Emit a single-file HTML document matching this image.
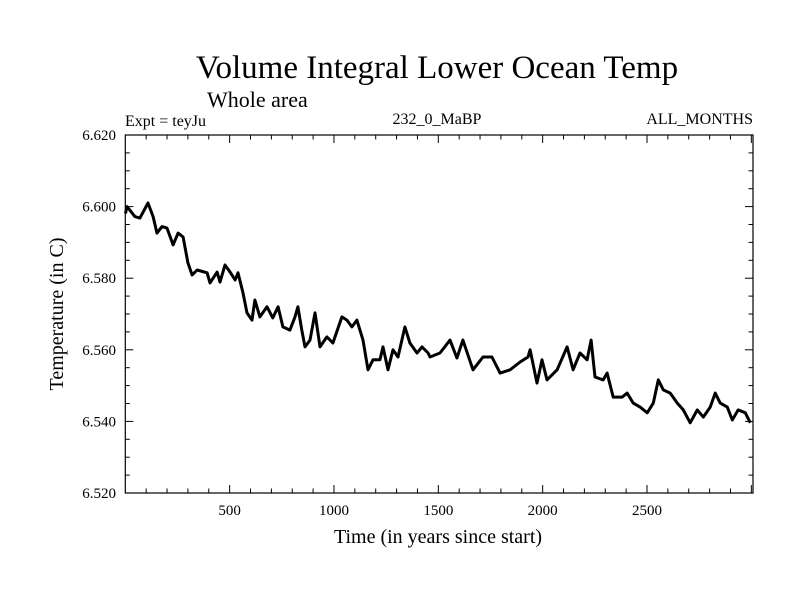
<!DOCTYPE html>
<html><head><meta charset="utf-8"><style>
html,body{margin:0;padding:0;background:#fff;}
svg{display:block;font-family:"Liberation Serif",serif;}
</style></head><body>
<svg id="chart" width="800" height="600" viewBox="0 0 800 600">
<text x="437" y="78" font-size="33" text-anchor="middle">Volume Integral Lower Ocean Temp</text>
<text x="207" y="107" font-size="22">Whole area</text>
<text x="125" y="126" font-size="16">Expt = teyJu</text>
<text x="437" y="124" font-size="16" text-anchor="middle">232_0_MaBP</text>
<text x="753" y="124" font-size="16" text-anchor="end">ALL_MONTHS</text>
<text x="438" y="543" font-size="20" text-anchor="middle">Time (in years since start)</text>
<text transform="translate(63,314) rotate(-90)" font-size="20" text-anchor="middle">Temperature (in C)</text>
<g id="ticks"></g>
<g id="series"></g>
<rect x="125.3" y="135" width="627.7" height="358" fill="none" stroke="#000" stroke-width="1.2"/>
</svg>
<script>
const years = [1,8,46,70,109,133,152,176,200,229,253,277,300,320,344,392,406,440,454,478,502,526,540,564,583,607,621,645,679,707,732,755,789,813,827,846,861,885,909,933,966,995,1038,1062,1086,1110,1139,1163,1187,1220,1235,1259,1283,1307,1340,1364,1398,1422,1451,1460,1508,1556,1589,1618,1666,1714,1757,1796,1844,1892,1930,1940,1973,1997,2021,2069,2117,2146,2179,2213,2232,2251,2290,2309,2338,2381,2405,2434,2467,2501,2530,2554,2578,2611,2645,2674,2707,2741,2770,2803,2827,2851,2885,2909,2937,2971,2995];
const temps = [6.5981,6.6000,6.5972,6.5968,6.6010,6.5972,6.5926,6.5944,6.5940,6.5893,6.5926,6.5915,6.5843,6.5809,6.5823,6.5815,6.5787,6.5817,6.5789,6.5837,6.5817,6.5795,6.5815,6.5759,6.5703,6.5683,6.5739,6.5692,6.5720,6.5689,6.5720,6.5664,6.5655,6.5692,6.5720,6.5655,6.5608,6.5627,6.5703,6.5608,6.5636,6.5619,6.5692,6.5683,6.5664,6.5683,6.5627,6.5544,6.5572,6.5572,6.5608,6.5544,6.5600,6.5580,6.5664,6.5619,6.5591,6.5608,6.5591,6.5580,6.5591,6.5627,6.5577,6.5627,6.5544,6.5580,6.5580,6.5535,6.5544,6.5566,6.5580,6.5600,6.5507,6.5572,6.5516,6.5544,6.5608,6.5544,6.5591,6.5572,6.5627,6.5524,6.5516,6.5535,6.5468,6.5468,6.5479,6.5451,6.5440,6.5424,6.5451,6.5516,6.5488,6.5479,6.5451,6.5432,6.5396,6.5432,6.5412,6.5440,6.5479,6.5451,6.5440,6.5404,6.5432,6.5424,6.5396];
const xTickLabels = ["500","1000","1500","2000","2500"];
const yTickLabels = ["6.520","6.540","6.560","6.580","6.600","6.620"];

const X0=125.3, X1=753, Y0=135, Y1=493, XMIN=0, XMAX=3008, YMIN=6.52, YMAX=6.62;
const xs = v => X0 + (v-XMIN)/(XMAX-XMIN)*(X1-X0);
const ys = v => Y1 - (v-YMIN)/(YMAX-YMIN)*(Y1-Y0);
const NS="http://www.w3.org/2000/svg";
const tg=document.getElementById('ticks');
function line(x1,y1,x2,y2){const l=document.createElementNS(NS,'line');l.setAttribute('x1',x1);l.setAttribute('y1',y1);l.setAttribute('x2',x2);l.setAttribute('y2',y2);l.setAttribute('stroke','#000');l.setAttribute('stroke-width','1');


tg.appendChild(l);}
for(let t=100;t<XMAX;t+=100){const x=xs(t);const L=(t%500===0)?8:4.5;line(x,Y1,x,Y1-L);line(x,Y0,x,Y0+L);}
for(let i=0;i<=20;i++){const v=YMIN+i*0.005;const y=ys(v);const L=(i%4===0)?8:4.5;line(X0,y,X0+L,y);line(X1,y,X1-L,y);}
xTickLabels.forEach(s=>{const t=document.createElementNS(NS,'text');t.setAttribute('x',xs(+s));t.setAttribute('y',515);t.setAttribute('font-size','15');t.setAttribute('text-anchor','middle');t.textContent=s;


tg.appendChild(t);});
yTickLabels.forEach(s=>{const t=document.createElementNS(NS,'text');t.setAttribute('x',116);t.setAttribute('y',ys(+s)+5);t.setAttribute('font-size','15');t.setAttribute('text-anchor','end');t.textContent=s;


tg.appendChild(t);});
const p=document.createElementNS(NS,'path');
p.setAttribute('d',years.map((y,i)=>(i?'L':'M')+xs(y).toFixed(1)+' '+ys(temps[i]).toFixed(1)).join(' '));
p.setAttribute('fill','none');p.setAttribute('stroke','#000');p.setAttribute('stroke-width','3');p.setAttribute('stroke-linejoin','round');


document.getElementById('series').appendChild(p);
</script>
</body></html>
